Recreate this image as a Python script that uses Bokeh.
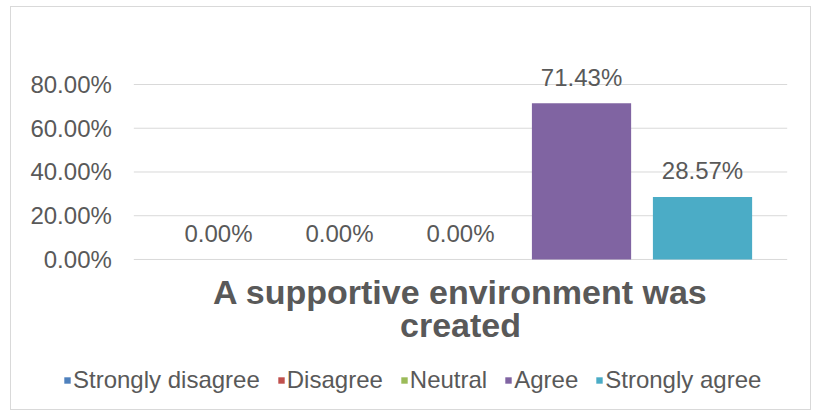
from bokeh.plotting import figure
from bokeh.models import ColumnDataSource, Range1d, Label
from bokeh.embed import file_html
from bokeh.resources import INLINE
from bokeh.core.properties import value

categories = ["Strongly disagree", "Disagree", "Neutral", "Agree", "Strongly agree"]
values = [0.0, 0.0, 0.0, 0.7143, 0.2857]
colors = ["#4F81BD", "#C0504D", "#9BBB59", "#8064A2", "#4BACC6"]
y_ticks = [0.0, 0.2, 0.4, 0.6, 0.8]
title_lines = ["A supportive environment was", "created"]

FONT = "Liberation Sans"
TXT = "#595959"
GRID = "#d9d9d9"

n = len(categories)
src = ColumnDataSource(dict(
    x=list(range(n)), cat=categories, val=values, color=colors,
    label=[f"{v:.2%}" for v in values],
))

# plot-area extent (in category units) around the centre of the cluster
center = (n - 1) / 2
half_span = 2.7
gx0, gx1 = center - half_span, center + half_span

p = figure(
    x_range=Range1d(-1.711, 4.909),
    y_range=Range1d(-0.695, 1.152),
    width=801, height=404,
    output_backend="svg", toolbar_location=None,
    min_border_left=0, min_border_right=0, min_border_top=0, min_border_bottom=0,
)
p.margin = (6, 0, 0, 10)
p.styles = {"border": "1px solid #d9d9d9"}
p.outline_line_color = None
p.background_fill_color = "white"
p.border_fill_color = "white"
p.xaxis.visible = False
p.yaxis.visible = False
p.xgrid.visible = False
p.ygrid.visible = False

# horizontal gridlines at the value-axis ticks
p.segment(x0=gx0, x1=gx1, y0=y_ticks, y1=y_ticks, line_color=GRID, line_width=1)

# value-axis tick labels
p.text(x=gx0, y=y_ticks, text=[f"{t:.2%}" for t in y_ticks], x_offset=-22,
       text_align="right", text_baseline="middle", text_color=TXT,
       text_font=value(FONT), text_font_size="24px")

p.vbar(x="x", top="val", width=0.82, source=src, fill_color="color",
       line_color=None, legend_field="cat")

p.text(x="x", y="val", text="label", source=src, text_align="center",
       text_baseline="alphabetic", y_offset=-26, text_color=TXT,
       text_font=value(FONT), text_font_size="24px")

title_y = [-0.148, -0.300]
for line, ty in zip(title_lines, title_y):
    p.add_layout(Label(x=center, y=ty, text=line, text_align="center",
                       text_baseline="middle", text_font=FONT, text_font_style="bold",
                       text_font_size="34px", text_color=TXT))

leg = p.legend[0]
leg.orientation = "horizontal"
leg.location = (52, 17)
leg.border_line_color = None
leg.background_fill_alpha = 0
leg.label_text_font = FONT
leg.label_text_font_size = "24px"
leg.label_text_color = TXT
leg.glyph_width = 8
leg.glyph_height = 8
leg.label_standoff = 2
leg.spacing = 17
leg.padding = 0
leg.margin = 0

open("out.html", "w").write(file_html(p, INLINE))
